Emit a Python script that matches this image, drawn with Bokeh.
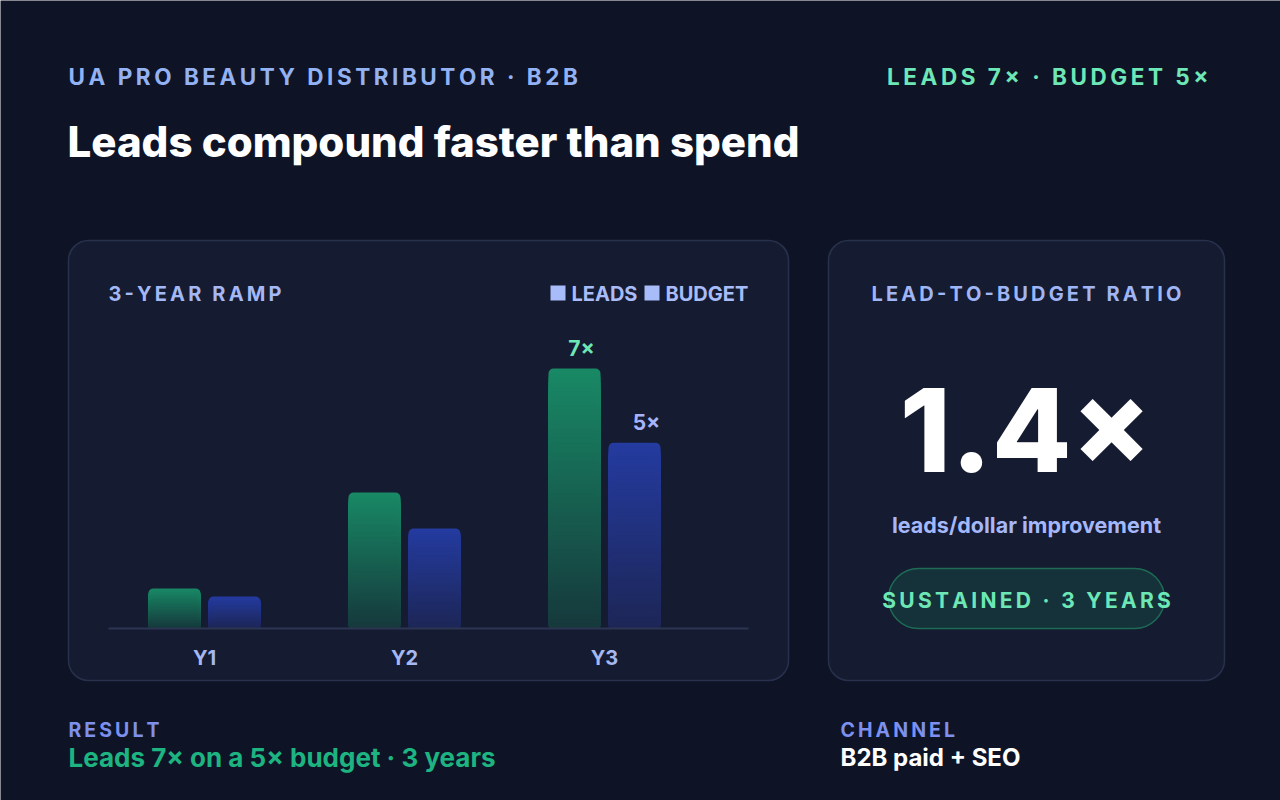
import numpy as np
from bokeh.plotting import figure
from bokeh.models import Range1d, BoxAnnotation
from bokeh.core.properties import value
from bokeh.embed import file_html
from bokeh.resources import INLINE

# ---- data ---------------------------------------------------------------
years = ["Y1", "Y2", "Y3"]
leads = [1.08, 3.66, 7.0]      # lead volume, indexed to year 1
budget = [0.86, 2.69, 5.0]     # budget, indexed to year 1
kicker = "UA PRO BEAUTY DISTRIBUTOR · B2B"
headline = "Leads compound faster than spend"
result_text = "Leads 7× on a 5× budget · 3 years"
channel_text = "B2B paid + SEO"

W, H = 1280, 800
FONT = "Inter"
HEAVY = "Inter ExtraBold, Inter"
THIN = "\u2009"

# chart geometry (pixels)
BASE_PX = 628          # baseline of the bars
TOP_PX = 368           # top of the tallest bar
G0_PX = 204            # centre of the first year group
GROUP_PX = 200         # distance between year groups
DODGE = 0.15           # bar offset from group centre (group units)
BAR_W = 0.26

LEADS_TOP, LEADS_BOT = (24, 137, 101), (22, 56, 60)
BUDGET_TOP, BUDGET_BOT = (36, 59, 160), (29, 38, 86)


def track(s, gap=THIN):
    return gap.join(s)


def hexc(rgb):
    return "#%02x%02x%02x" % tuple(int(round(c)) for c in rgb)


def mix(a, b, t):
    return hexc([a[i] + (b[i] - a[i]) * t for i in range(3)])


p = figure(width=W, height=H, x_range=Range1d(0, W), y_range=Range1d(H, 0),
           x_axis_type=None, y_axis_type=None, toolbar_location=None,
           output_backend="svg", min_border=0)
p.outline_line_color = None
p.grid.visible = False
p.background_fill_color = "#0e1426"
p.border_fill_color = "#0e1426"

# soft diagonal page gradient
gh, gw = 100, 160
yy, xx = np.mgrid[0:gh, 0:gw]
t = (xx / (gw - 1) * 0.55 + yy / (gh - 1) * 0.45)
c0 = np.array([10, 15, 30]); c1 = np.array([20, 27, 49])
img = np.zeros((gh, gw), dtype=np.uint32)
view = img.view(dtype=np.uint8).reshape((gh, gw, 4))
for i in range(3):
    view[:, :, i] = (c0[i] + (c1[i] - c0[i]) * t).astype(np.uint8)
view[:, :, 3] = 255
p.image_rgba(image=[img[::-1]], x=0, y=H, dw=W, dh=H, level="image")

# cards
for left, right in [(68, 788), (828, 1224)]:
    p.add_layout(BoxAnnotation(left=left, right=right, top=240, bottom=680,
                               fill_color="#151b30", fill_alpha=1,
                               line_color="#28314c", line_alpha=1, line_width=1.5,
                               border_radius=20, level="underlay"))
# pill
p.add_layout(BoxAnnotation(left=888, right=1164, top=568, bottom=628,
                           fill_color="#15313a", fill_alpha=1,
                           line_color="#1d6b55", line_alpha=1, line_width=1.5,
                           border_radius=30, level="underlay"))


def label(x, y, text, size, color, align="left", font=FONT):
    p.text(x=[x], y=[y], text=[text], text_font=value(font),
           text_font_size=f"{size}px", text_font_style="bold",
           text_color=color, text_align=align, text_baseline="middle")


# header
label(68, 76, track(kicker), 22.5, "#93b2f4")
label(1208, 76, track(f"LEADS {leads[-1]:g}× · BUDGET {budget[-1]:g}×"), 22.5,
      "#6ee7b7", align="right")
label(67, 141, headline, 42, "#ffffff", font=HEAVY)

# left card header + legend
label(108, 293, track("3-YEAR RAMP"), 20, "#a3b8f5")
p.quad(left=[550, 644], right=[565, 659], top=[285, 285], bottom=[300, 300],
       fill_color="#a8bcfa", line_color=None)
label(571, 293, "LEADS", 20, "#a8bcfa")
label(665, 293, "BUDGET", 20, "#a8bcfa")

# bar scales
k = (BASE_PX - TOP_PX) / max(leads)
p.extra_y_ranges = {"val": Range1d((BASE_PX - H) / k, BASE_PX / k)}
p.extra_x_ranges = {"yr": Range1d(-G0_PX / GROUP_PX, (W - G0_PX) / GROUP_PX)}

# gradient bars: nested bars, tallest first, each a shade darker
N = 56
for vals, dx, ctop, cbot in [(leads, -DODGE, LEADS_TOP, LEADS_BOT),
                             (budget, DODGE, BUDGET_TOP, BUDGET_BOT)]:
    xs, tops, cols = [], [], []
    for j in range(N):
        frac = 1 - j / N
        for i, v in enumerate(vals):
            xs.append(i + dx)
            tops.append(v * frac)
            cols.append(mix(cbot, ctop, frac - 0.5 / N))
    p.vbar(x=xs, top=tops, bottom=0, width=BAR_W, fill_color=cols,
           line_color=None, border_radius=5,
           x_range_name="yr", y_range_name="val")

# baseline
p.segment(x0=[108], x1=[748], y0=[BASE_PX], y1=[BASE_PX],
          line_color="#2c3552", line_width=2)

# year labels
idx = list(range(len(years)))
p.text(x=idx, y=[0] * len(idx), text=years, text_font=value(FONT),
       text_font_size="20px", text_font_style="bold", text_color="#a5b8f0",
       text_align="center", text_baseline="middle", y_offset=29,
       x_range_name="yr", y_range_name="val")

# end-of-ramp multipliers
last = len(years) - 1
p.text(x=[last - DODGE], y=[leads[-1]], text=[f"{leads[-1]:g}×"],
       text_font=value(FONT), text_font_size="21px", text_font_style="bold",
       text_color="#6ee7b7", text_align="center", text_baseline="middle",
       x_offset=7, y_offset=-20, x_range_name="yr", y_range_name="val")
p.text(x=[last + DODGE], y=[budget[-1]], text=[f"{budget[-1]:g}×"],
       text_font=value(FONT), text_font_size="21px", text_font_style="bold",
       text_color="#a5b4fc", text_align="center", text_baseline="middle",
       x_offset=12, y_offset=-20, x_range_name="yr", y_range_name="val")

# right card
label(1026, 293, track("LEAD-TO-BUDGET RATIO"), 20, "#9fb5f5", align="center")
label(1025, 429, f"{leads[-1] / budget[-1]:.1f}×", 116, "#ffffff", align="center",
      font=HEAVY)
label(1026, 524, "leads/dollar improvement", 21.5, "#a5b8fb", align="center")
label(1026, 600, track("SUSTAINED · 3 YEARS"), 21, "#6ee7b7", align="center")

# footer
label(68, 729, track("RESULT"), 19.5, "#7d90ee")
label(68, 757, result_text, 26, "#1db482")
label(840, 729, track("CHANNEL"), 19.5, "#7d90ee")
label(840, 757, channel_text, 24, "#ffffff")

open("out.html", "w").write(file_html(p, INLINE))
